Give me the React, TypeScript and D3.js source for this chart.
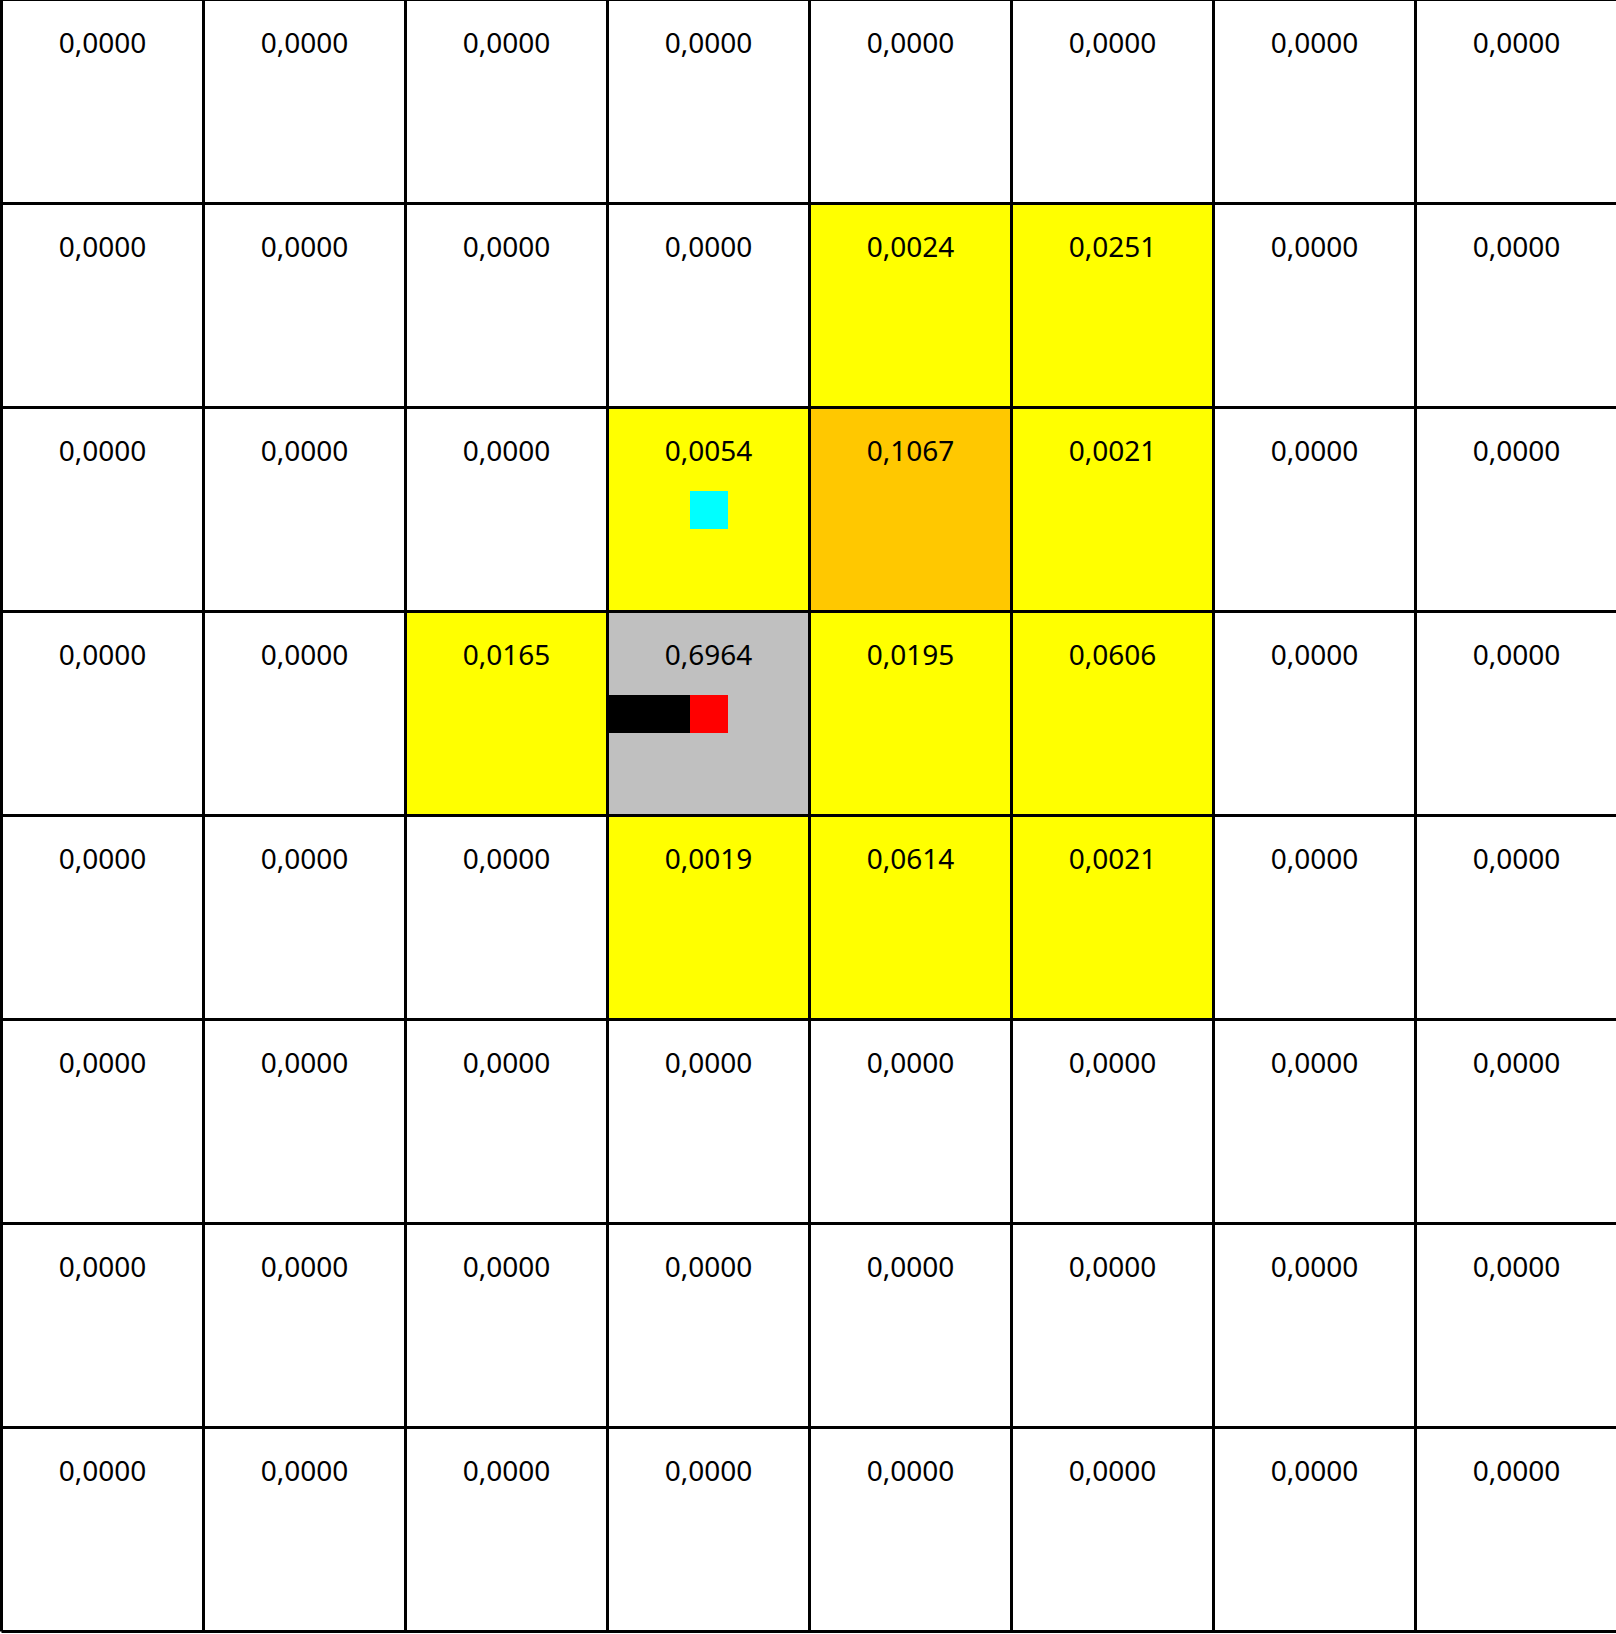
import React from "react";
import * as d3 from "d3";

// grid values (row by row, top to bottom)
const rows = [0, 1, 2, 3, 4, 5, 6, 7];
const cols = [0, 1, 2, 3, 4, 5, 6, 7];
const row0 = [0, 0, 0, 0, 0, 0, 0, 0];
const row1 = [0, 0, 0, 0, 0.0024, 0.0251, 0, 0];
const row2 = [0, 0, 0, 0.0054, 0.1067, 0.0021, 0, 0];
const row3 = [0, 0, 0.0165, 0.6964, 0.0195, 0.0606, 0, 0];
const row4 = [0, 0, 0, 0.0019, 0.0614, 0.0021, 0, 0];
const row5 = [0, 0, 0, 0, 0, 0, 0, 0];
const row6 = [0, 0, 0, 0, 0, 0, 0, 0];
const row7 = [0, 0, 0, 0, 0, 0, 0, 0];
const values = [row0, row1, row2, row3, row4, row5, row6, row7];

// agent (gray cell, red marker with black heading bar) and target (cyan)
const agent = { row: 3, col: 3 };
const target = { row: 2, col: 3 };

const W = 1616;
const H = 1634;

const locale = d3.formatLocale({
  decimal: ",",
  thousands: ".",
  grouping: [3],
  currency: ["", ""],
});
const fmt = locale.format(".4f");

export default function App() {
  // half-pixel offsets keep the 3px grid lines crisp
  const x = d3.scaleBand<number>().domain(cols).range([1.5, 1617.5]);
  const y = d3.scaleBand<number>().domain(rows).range([-0.5, 1631.5]);
  const color = d3
    .scaleThreshold<number, string>()
    .domain([0.00005, 0.1])
    .range(["#ffffff", "#ffff00", "#ffc800"]);

  const bw = x.bandwidth();
  const bh = y.bandwidth();
  const mark = 38;

  const cells = rows.flatMap((r) =>
    cols.map((c) => ({ r, c, v: values[r][c] }))
  );

  const xLines = cols.map((c) => x(c)!).concat([x(7)! + bw]);
  const yLines = rows.map((r) => y(r)!).concat([y(7)! + bh]);

  const ax = x(agent.col)!;
  const ay = y(agent.row)!;
  const tx = x(target.col)!;
  const ty = y(target.row)!;

  return (
    <svg
      width={W}
      height={H}
      style={{ position: "absolute", left: 0, top: 0, display: "block" }}
    >
      <rect x={0} y={0} width={W} height={H} fill="#ffffff" />
      {cells.map((d) => (
        <rect
          key={`c${d.r}-${d.c}`}
          x={x(d.c)}
          y={y(d.r)}
          width={bw}
          height={bh}
          fill={
            d.r === agent.row && d.c === agent.col ? "#c0c0c0" : color(d.v)
          }
        />
      ))}

      {/* target */}
      <rect
        x={Math.round(tx + bw / 2 - mark / 2)}
        y={Math.round(ty + bh / 2 - mark / 2)}
        width={mark}
        height={mark}
        fill="#00ffff"
      />

      {/* agent heading bar + body */}
      <rect
        x={ax}
        y={Math.round(ay + bh / 2 - mark / 2)}
        width={bw / 2}
        height={mark}
        fill="#000000"
      />
      <rect
        x={Math.round(ax + bw / 2 - mark / 2)}
        y={Math.round(ay + bh / 2 - mark / 2)}
        width={mark}
        height={mark}
        fill="#ff0000"
      />

      {cells.map((d) => (
        <text
          key={`t${d.r}-${d.c}`}
          x={x(d.c)! + bw / 2}
          y={y(d.r)! + 53}
          textAnchor="middle"
          fontFamily="'Noto Sans', 'Open Sans', sans-serif"
          fontSize={28}
          fill="#000000"
        >
          {fmt(d.v)}
        </text>
      ))}

      {xLines.map((lx, i) => (
        <line
          key={`vx${i}`}
          x1={lx}
          x2={lx}
          y1={yLines[0]}
          y2={yLines[yLines.length - 1]}
          stroke="#000000"
          strokeWidth={3}
        />
      ))}
      {yLines.map((ly, i) => (
        <line
          key={`hy${i}`}
          x1={xLines[0]}
          x2={xLines[xLines.length - 1]}
          y1={ly}
          y2={ly}
          stroke="#000000"
          strokeWidth={3}
        />
      ))}
    </svg>
  );
}
